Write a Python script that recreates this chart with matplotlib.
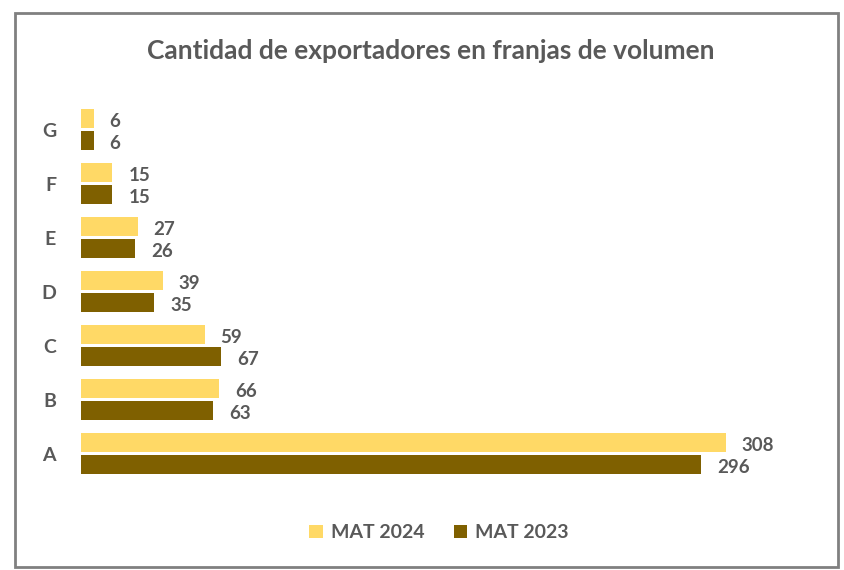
import matplotlib.pyplot as plt
from matplotlib.patches import Rectangle
import numpy as np

plt.rcParams['font.family'] = ['Lato', 'DejaVu Sans']

categorias = ['A', 'B', 'C', 'D', 'E', 'F', 'G']
mat_2024 = [308, 66, 59, 39, 27, 15, 6]
mat_2023 = [296, 63, 67, 35, 26, 15, 6]

col_2024 = '#FFD966'
col_2023 = '#7F6000'
gris = '#595959'

fig = plt.figure(figsize=(8.44, 5.7), dpi=100)
ax = fig.add_axes([0.096, 0.147, 0.840, 0.682])

y = np.arange(len(categorias))
h = 0.35
b1 = ax.barh(y + 0.205, mat_2024, height=h, color=col_2024, label='MAT 2024')
b2 = ax.barh(y - 0.205, mat_2023, height=h, color=col_2023, label='MAT 2023')

for bars, vals in [(b1, mat_2024), (b2, mat_2023)]:
    for bar, v in zip(bars, vals):
        ax.annotate(str(v), (bar.get_width(), bar.get_y() + bar.get_height() / 2),
                    xytext=(11.5, -2), textcoords='offset points',
                    ha='left', va='center', fontsize=13.5, fontweight='bold', color=gris)

ax.set_xlim(0, 338.6)
ax.set_ylim(-0.6, 6.6)
ax.set_yticks(y)
ax.set_yticklabels(categorias, fontsize=14, color=gris, fontweight='bold')
ax.tick_params(axis='y', length=0, pad=18)
ax.set_xticks([])
for s in ax.spines.values():
    s.set_visible(False)

fig.text(0.51, 0.91, 'Cantidad de exportadores en franjas de volumen',
         ha='center', va='center', fontsize=19, color=gris, fontweight='bold')

fig.legend(handles=[b1, b2], loc='center', bbox_to_anchor=(0.52, 0.065), ncol=2,
           frameon=False, handlelength=0.7, handleheight=0.7,
           columnspacing=1.5, handletextpad=0.4,
           prop={'size': 14, 'weight': 'bold'}, labelcolor=gris)

fig.patches.append(Rectangle((15 / 844, 3 / 570), 823 / 844, 554 / 570,
                             transform=fig.transFigure, fill=False,
                             edgecolor='#808080', linewidth=2))

fig.savefig('out.png', dpi=100)
